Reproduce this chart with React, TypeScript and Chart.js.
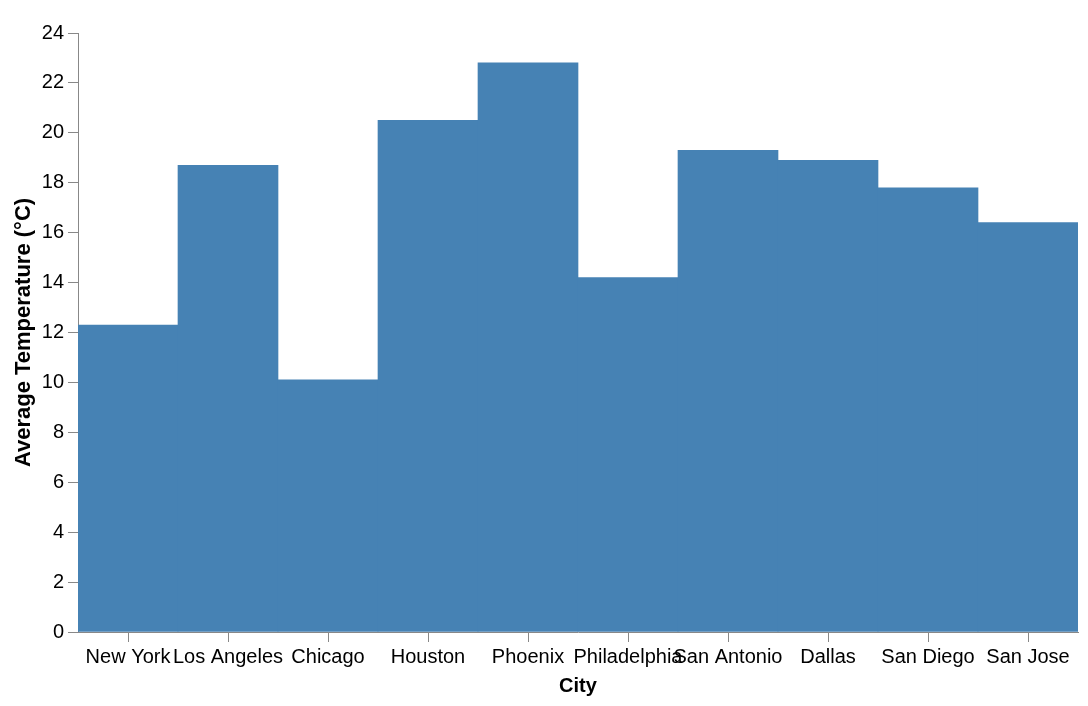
import React, { useEffect, useRef } from "react";
import { Chart, registerables } from "chart.js";

Chart.register(...registerables);

const cities = ["New York", "Los Angeles", "Chicago", "Houston", "Phoenix", "Philadelphia", "San Antonio", "Dallas", "San Diego", "San Jose"];
const avgTemps = [12.3, 18.7, 10.1, 20.5, 22.8, 14.2, 19.3, 18.9, 17.8, 16.4];
const yMin = 0;
const yMax = 24;
const yStep = 2;

export default function App() {
  const ref = useRef<HTMLCanvasElement | null>(null);
  useEffect(() => {
    document.body.style.margin = "0";
    const ctx = ref.current!;
    const font = "'Liberation Sans', Arial, Helvetica, sans-serif";
    const chart = new Chart(ctx, {
      type: "bar",
      data: {
        labels: cities,
        datasets: [
          {
            label: "Average Temperature (°C)",
            data: avgTemps,
            backgroundColor: "#4682b4",
            borderWidth: 0,
            categoryPercentage: 1,
            barPercentage: 1,
          },
        ],
      },
      options: {
        animation: false,
        responsive: false,
        maintainAspectRatio: false,
        layout: { padding: { top: 33, right: 10, left: 0, bottom: 0 } },
        plugins: { legend: { display: false }, tooltip: { enabled: false } },
        scales: {
          x: {
            grid: { drawOnChartArea: false, drawTicks: true, tickLength: 10, color: "#888", offset: false },
            border: { color: "#888", width: 1 },
            ticks: {
              autoSkip: false,
              maxRotation: 0,
              minRotation: 0,
              padding: 3,
              color: "#000",
              font: { family: font, size: 20 },
            },
            title: {
              display: true,
              text: "City",
              color: "#000",
              font: { family: font, size: 20, weight: "bold" },
              padding: { top: 0, bottom: 8 },
            },
            afterFit: (s: any) => {
              s.height = 74;
            },
          },
          y: {
            min: yMin,
            max: yMax,
            grid: { drawOnChartArea: false, drawTicks: true, tickLength: 10, color: "#888" },
            border: { color: "#888", width: 1 },
            ticks: {
              stepSize: yStep,
              padding: 4,
              color: "#000",
              font: { family: font, size: 20 },
            },
            title: {
              display: true,
              text: "Average Temperature (°C)",
              color: "#000",
              font: { family: font, size: 22, weight: "bold" },
              padding: { top: 11, bottom: 0 },
            },
            afterFit: (s: any) => {
              s.width = 78;
            },
          },
        },
      },
    });
    return () => chart.destroy();
  }, []);
  return (
    <div style={{ position: "absolute", left: 0, top: 0, width: 1088, height: 706 }}>
      <canvas ref={ref} width={1088} height={706} style={{ width: 1088, height: 706 }} />
    </div>
  );
}
